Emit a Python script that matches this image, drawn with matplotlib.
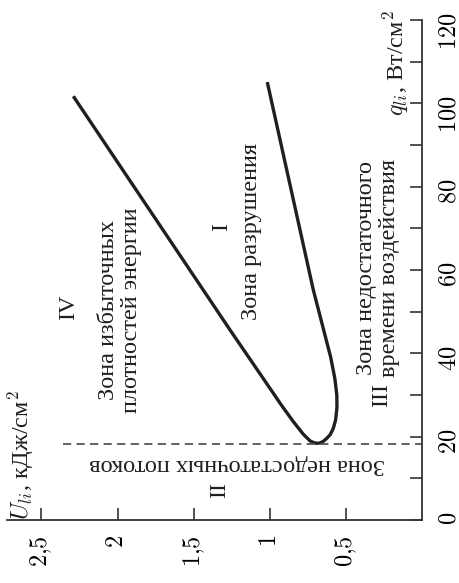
import matplotlib.pyplot as plt

plt.rcParams['font.family'] = ['Liberation Serif', 'DejaVu Serif']
plt.rcParams['mathtext.fontset'] = 'cm'

# boundary of the destruction zone: U (kJ/cm2) against q (W/cm2)
u_curve = [2.290, 1.262, 0.978, 0.926, 0.847, 0.782, 0.738, 0.715, 0.694,
           0.670, 0.650, 0.628, 0.605, 0.585, 0.570, 0.561, 0.562, 0.575,
           0.603, 0.716, 1.018]
q_curve = [101.7, 45.6, 30.4, 27.6, 23.6, 20.6, 19.0, 18.6, 18.4,
           18.5, 18.9, 19.6, 20.5, 22.0, 24.0, 27.0, 30.0, 34.0,
           39.2, 55.2, 105.1]

# threshold flux below which nothing happens
q_threshold = 18.2
u_threshold_end = 2.36

u_ticks = [0.5, 1, 1.5, 2, 2.5]
u_tick_labels = ['0,5', '1', '1,5', '2', '2,5']
q_ticks = [0, 20, 40, 60, 80, 100, 120]
q_minor_ticks = [10, 30, 50, 70, 90, 110]

FS = 17.5
INK = '#1f1f1f'

fig = plt.figure(figsize=(4.6, 5.83), dpi=100)
ax = fig.add_axes([7 / 460, 63 / 583, 415.5 / 460, 500 / 583])

# the chart is drawn turned on its side: U runs right-to-left, q runs upward
ax.set_xlim(2.725, 0)
ax.set_ylim(0, 120)

ax.plot(u_curve, q_curve, color=INK, lw=2.4, solid_joinstyle='round',
        solid_capstyle='butt')
ax.plot([u_threshold_end, 0], [q_threshold, q_threshold], color='#555555',
        lw=1.3, ls=(0, (4.5, 3)))

for side in ('top', 'left'):
    ax.spines[side].set_visible(False)
for side in ('bottom', 'right'):
    ax.spines[side].set_linewidth(1.3)
    ax.spines[side].set_color('#333333')

ax.set_xticks(u_ticks)
ax.set_xticklabels(['$' + s.replace(',', '{,}') + '$' for s in u_tick_labels])
ax.yaxis.tick_right()
ax.set_yticks(q_ticks)
ax.set_yticklabels([f'${v}$' for v in q_ticks])
ax.set_yticks(q_minor_ticks, minor=True)

ax.tick_params(axis='x', which='both', direction='in', length=9, width=1.2,
               color='#333333', labelsize=FS, labelrotation=90, pad=11)
ax.tick_params(axis='y', which='both', direction='in', length=9, width=1.2,
               color='#333333', labelsize=FS, labelrotation=90, pad=12,
               left=False, right=True, labelleft=False, labelright=True)

# axis titles
ax.text(2.633, 0, r'$U_{li}$, кДж/см$^2$', rotation=90, ha='center',
        va='bottom', fontsize=FS, color=INK, clip_on=False)
ax.text(0.174, 122.3, r'$q_{li}$, Вт/см$^2$', rotation=90, ha='center',
        va='top', fontsize=FS, color=INK, clip_on=False)

# zone labels
txt = dict(rotation=90, ha='center', va='center', fontsize=FS, color=INK,
           multialignment='center', linespacing=1.1)
ax.text(2.318, 51.1, 'IV', **txt)
ax.text(1.984, 50.4, 'Зона избыточных\nплотностей энергии', **txt)
ax.text(1.317, 70.3, 'I', **txt)
ax.text(1.12, 69.2, 'Зона разрушения', **txt)
ax.text(0.290, 60.5, 'Зона недостаточного\nвремени воздействия', **txt)
ax.text(0.268, 30.0, 'III', **txt)
ax.text(1.328, 7.2, 'II', **txt)
ax.text(1.216, 13.2, 'Зона недостаточных потоков', rotation=180,
        ha='center', va='center', fontsize=FS, color=INK)

fig.savefig('out.png', dpi=100)
